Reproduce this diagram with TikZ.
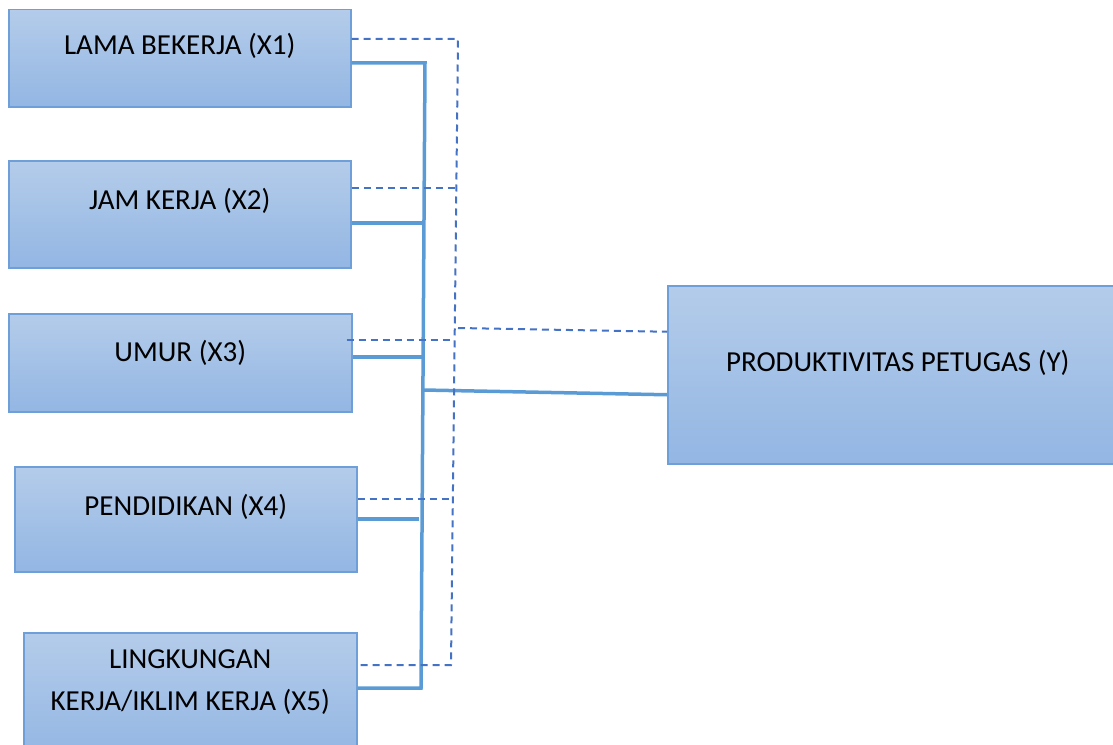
\documentclass[tikz,border=0pt]{standalone}
\usepackage{fontspec}
\setmainfont{Carlito}
\definecolor{boxtop}{HTML}{B4CCEA}
\definecolor{boxbot}{HTML}{93B6E3}
\definecolor{boxline}{HTML}{6E9FD9}
\definecolor{solidblue}{HTML}{5B9BD5}
\definecolor{dashblue}{HTML}{4472C4}
\tikzset{
  varbox/.style={draw=boxline, line width=1.5bp, top color=boxtop, bottom color=boxbot,
    anchor=north west, inner sep=0pt},
  lbl/.style={anchor=base, align=center, font=\fontsize{29bp}{42bp}\selectfont},
  solidln/.style={draw=solidblue, line width=3.5bp},
  dashln/.style={draw=dashblue, line width=2bp, dash pattern=on 7bp off 5bp}
}
\begin{document}
\begin{tikzpicture}[x=1bp, y=-1bp]
        \useasboundingbox (0, 0) rectangle (1113, 745);
        % boxes
        \node[varbox, minimum width=342bp, minimum height=97bp] (x1) at (8, 9) {};
        \node[varbox, minimum width=342bp, minimum height=107bp] (x2) at (8, 160) {};
        \node[varbox, minimum width=343bp, minimum height=98bp] (x3) at (8, 313) {};
        \node[varbox, minimum width=342bp, minimum height=105bp] (x4) at (14, 466) {};
        \node[varbox, minimum width=333bp, minimum height=125bp] (x5) at (23, 632) {};
        \node[varbox, minimum width=460bp, minimum height=178bp] (y) at (667, 285) {};
        % labels
        \node[lbl] (t1) at ([yshift=-45bp]x1.north) {LAMA BEKERJA (X1)};
        \node[lbl] (t2) at ([yshift=-49bp]x2.north) {JAM KERJA (X2)};
        \node[lbl] (t3) at ([yshift=-48bp]x3.north) {UMUR (X3)};
        \node[lbl] (t4) at ([yshift=-49bp]x4.north) {PENDIDIKAN (X4)};
        \node[lbl, anchor=north] (t5) at ([yshift=-14bp]x5.north) {LINGKUNGAN\\KERJA/IKLIM KERJA (X5)};
        \node[lbl] (ty) at ([yshift=-86bp]y.north) {PRODUKTIVITAS PETUGAS (Y)};
        % solid bus
        \coordinate (s1) at (425, 63);
        \coordinate (s2) at (424, 223);
        \coordinate (s3) at (423, 357);
        \coordinate (sy) at (423, 390);
        \coordinate (s4) at (419, 519);
        \coordinate (s5) at (421, 688);
        \draw[solidln] (x1.east |- s1) -- (s1) -- (s5) -- (x5.east |- s5);
        \draw[solidln] (x2.east |- s2) -- (s2);
        \draw[solidln] (x3.east |- s3) -- (s3);
        \draw[solidln] (x4.east |- s4) -- (s4);
        \draw[solidln] (sy) -- ([yshift=-20bp]y.west);
        % dashed bus
        \coordinate (d1) at (458, 39);
        \coordinate (d2) at (456, 188);
        \coordinate (dy) at (458, 328);
        \coordinate (d3) at (454, 340);
        \coordinate (d4) at (453, 499);
        \coordinate (d5) at (451, 665);
        \draw[dashln] (x1.east |- d1) -- (d1) -- (d5) -- (x5.east |- d5);
        \draw[dashln] (x2.east |- d2) -- (d2);
        \draw[dashln] ([xshift=-6bp]x3.east |- d3) -- (d3);
        \draw[dashln] (x4.east |- d4) -- (d4);
        \draw[dashln] (dy) -- ([yshift=43bp]y.west);
      \end{tikzpicture}
\end{document}
